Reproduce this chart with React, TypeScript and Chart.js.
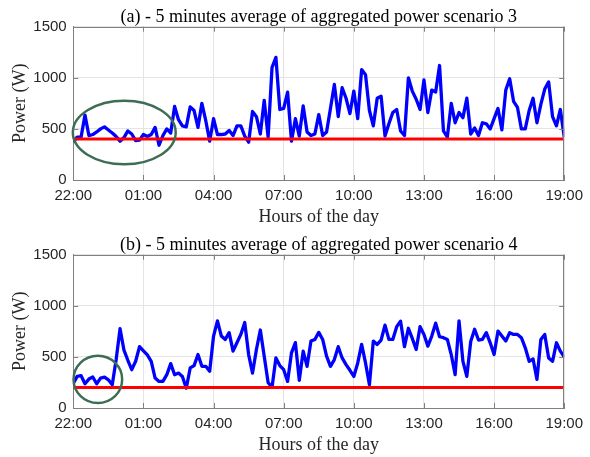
import React, { useEffect, useRef } from "react";
import { Chart, registerables } from "chart.js";

Chart.register(...registerables);

// ---------- data ----------
const SAMPLE_MINUTES = 10; // spacing of the values below (starting at 22:00)
const SPAN_HOURS = 21; // 22:00 -> 19:00
const X_TICK_LABELS = ["22:00", "01:00", "04:00", "07:00", "10:00", "13:00", "16:00", "19:00"];
const Y_TICK_LABELS = ["0", "500", "1000", "1500"];
const Y_MAX = 1500;
const Y_STEP = 500;

const TITLE_A = "(a) - 5 minutes average of aggregated power scenario 3";
const TITLE_B = "(b) - 5 minutes average of aggregated power scenario 4";
const X_TITLE = "Hours of the day";
const Y_TITLE = "Power (W)";

const SCENARIO3 = [
  370, 420, 420, 635, 435, 445, 470, 500, 520, 490,
  460, 425, 380, 415, 480, 450, 385, 390, 445, 425,
  445, 515, 340, 435, 500, 460, 720, 590, 530, 520,
  715, 680, 515, 750, 580, 380, 600, 445, 445, 450,
  485, 435, 530, 530, 430, 370, 670, 620, 450, 780,
  420, 1100, 1200, 690, 700, 860, 380, 600, 430, 725,
  470, 435, 450, 640, 435, 470, 700, 935, 620, 903,
  800, 650, 870, 600, 1080, 1030, 680, 530, 800, 820,
  430, 550, 660, 690, 480, 435, 1000, 870, 790, 690,
  980, 660, 880, 860, 1120, 480, 420, 750, 560, 660,
  610, 800, 450, 510, 435, 560, 550, 500, 600, 700,
  490, 880, 990, 770, 710, 500, 500, 680, 800, 560,
  740, 890, 960, 620, 530, 690, 420,
];
const BASELINE3 = 400;

const SCENARIO4 = [
  240, 309, 316, 237, 283, 303, 237, 293, 303, 276,
  227, 474, 776, 566, 467, 375, 457, 600, 560, 520,
  457, 293, 260, 260, 326, 434, 326, 342, 309, 194,
  392, 415, 523, 408, 408, 359, 704, 852, 704, 671,
  737, 556, 638, 720, 836, 523, 342, 572, 763, 507,
  250, 200, 490, 415, 375, 260, 540, 640, 270, 556,
  408, 655, 671, 740, 671, 507, 408, 474, 600, 490,
  424, 369, 309, 441, 622, 441, 227, 655, 622, 665,
  810, 671, 671, 796, 850, 600, 780, 681, 572, 796,
  720, 605, 704, 830, 697, 688, 671, 523, 326, 852,
  457, 309, 650, 770, 665, 671, 737, 638, 523, 753,
  704, 655, 737, 720, 720, 688, 589, 457, 480, 280,
  671, 720, 490, 457, 638, 556, 500,
];
const BASELINE4 = 200;

// highlight ellipses: [centre hour, centre power, radius hours, radius power]
const ELLIPSE_A = [2.18, 465, 2.2, 311];
const ELLIPSE_B = [1.05, 280, 1.04, 231];

// ---------- styles ----------
const SANS = "'Liberation Sans', Arial, sans-serif";
const SERIF = "'Liberation Serif', 'Times New Roman', serif";
const AXIS_COLOR = "#808080";
const GRID_COLOR = "#e4e4e4";
const TEXT_COLOR = "#262626";

const decorPlugin = {
  id: "decor",
  afterDatasetsDraw(chart: any, _args: any, opts: any) {
    const { ctx, scales } = chart;
    const x = scales.x;
    const y = scales.y;
    const e = opts.ellipse;
    if (e) {
      const cx = x.getPixelForValue(e[0]);
      const cy = y.getPixelForValue(e[1]);
      const rx = x.getPixelForValue(e[0] + e[2]) - cx;
      const ry = cy - y.getPixelForValue(e[1] + e[3]);
      ctx.save();
      ctx.beginPath();
      ctx.ellipse(cx, cy, rx, ry, 0, 0, Math.PI * 2);
      ctx.strokeStyle = "#3d6e55";
      ctx.lineWidth = 2.5;
      ctx.stroke();
      ctx.restore();
    }
  },
  afterDraw(chart: any, _args: any, opts: any) {
    const { ctx, chartArea: a, scales } = chart;
    const x = scales.x;
    const y = scales.y;
    ctx.save();
    ctx.strokeStyle = AXIS_COLOR;
    ctx.lineWidth = 1;
    ctx.beginPath();
    ctx.moveTo(a.left, Math.round(a.top) + 0.5);
    ctx.lineTo(a.right, Math.round(a.top) + 0.5);
    ctx.moveTo(Math.round(a.right) - 0.5, a.top);
    ctx.lineTo(Math.round(a.right) - 0.5, a.bottom);
    const tl = 5;
    x.ticks.forEach((t: any) => {
      const px = Math.round(x.getPixelForValue(t.value)) + 0.5;
      ctx.moveTo(px, a.bottom);
      ctx.lineTo(px, a.bottom - tl);
      ctx.moveTo(px, a.top);
      ctx.lineTo(px, a.top + tl);
    });
    y.ticks.forEach((t: any) => {
      const py = Math.round(y.getPixelForValue(t.value)) + 0.5;
      ctx.moveTo(a.left, py);
      ctx.lineTo(a.left + tl, py);
      ctx.moveTo(a.right, py);
      ctx.lineTo(a.right - tl, py);
    });
    ctx.stroke();
    // title centred over the axes
    ctx.fillStyle = "#000";
    ctx.font = `18px ${SERIF}`;
    ctx.textAlign = "center";
    ctx.textBaseline = "alphabetic";
    ctx.fillText(opts.title, (a.left + a.right) / 2, a.top - 5);
    ctx.restore();
  },
};

function makeConfig(title: string, values: number[], baseline: number, ellipse: number[]): any {
  const series = values.map((v, i) => ({ x: (i * SAMPLE_MINUTES) / 60, y: v }));
  const base = [
    { x: 0, y: baseline },
    { x: SPAN_HOURS, y: baseline },
  ];
  return {
    type: "line",
    data: {
      datasets: [
        {
          data: base,
          borderColor: "#ff0000",
          borderWidth: 3,
          pointRadius: 0,
          fill: false,
        },
        {
          data: series,
          borderColor: "#0000ff",
          borderWidth: 3.3,
          pointRadius: 0,
          tension: 0,
          fill: false,
          borderJoinStyle: "round",
        },
      ],
    },
    options: {
      responsive: false,
      animation: false,
      devicePixelRatio: 1,
      layout: { padding: { top: 26.7, right: 21, left: 0, bottom: 0 } },
      plugins: {
        legend: { display: false },
        tooltip: { enabled: false },
        title: { display: false },
        decor: { ellipse, title },
      },
      scales: {
        x: {
          type: "linear",
          min: 0,
          max: SPAN_HOURS,
          afterFit: (s: any) => {
            s.height = 48;
          },
          ticks: {
            stepSize: 3,
            autoSkip: false,
            maxRotation: 0,
            padding: 7,
            color: TEXT_COLOR,
            font: { family: SANS, size: 15 },
            callback: (v: number) => X_TICK_LABELS[Math.round(v / 3)] ?? "",
          },
          grid: { color: GRID_COLOR, drawTicks: false },
          border: { color: AXIS_COLOR, width: 1 },
          title: {
            display: true,
            text: X_TITLE,
            color: TEXT_COLOR,
            font: { family: SERIF, size: 18 },
            padding: { top: 0, bottom: 0 },
          },
        },
        y: {
          type: "linear",
          min: 0,
          max: Y_MAX,
          afterFit: (s: any) => {
            s.width = 73.3;
          },
          ticks: {
            stepSize: Y_STEP,
            padding: 6.6,
            color: TEXT_COLOR,
            font: { family: SANS, size: 15 },
            callback: (v: number) => Y_TICK_LABELS[Math.round(v / Y_STEP)] ?? "",
          },
          grid: { color: GRID_COLOR, drawTicks: false },
          border: { color: AXIS_COLOR, width: 1 },
          title: {
            display: true,
            text: Y_TITLE,
            color: TEXT_COLOR,
            font: { family: SERIF, size: 18 },
            padding: { top: 9.7, bottom: 0 },
          },
        },
      },
    },
    plugins: [decorPlugin],
  };
}

function PowerChart(props: { title: string; values: number[]; baseline: number; ellipse: number[] }) {
  const ref = useRef<HTMLCanvasElement | null>(null);
  useEffect(() => {
    if (!ref.current) return;
    const chart = new Chart(ref.current, makeConfig(props.title, props.values, props.baseline, props.ellipse));
    return () => chart.destroy();
  }, []);
  return <canvas ref={ref} width={590} height={228} style={{ display: "block", width: 590, height: 228 }} />;
}

export default function App() {
  useEffect(() => {
    document.body.style.margin = "0";
    document.body.style.background = "#fff";
  }, []);
  return (
    <div style={{ width: 590, height: 457, background: "#fff" }}>
      <PowerChart title={TITLE_A} values={SCENARIO3} baseline={BASELINE3} ellipse={ELLIPSE_A} />
      <PowerChart title={TITLE_B} values={SCENARIO4} baseline={BASELINE4} ellipse={ELLIPSE_B} />
    </div>
  );
}
